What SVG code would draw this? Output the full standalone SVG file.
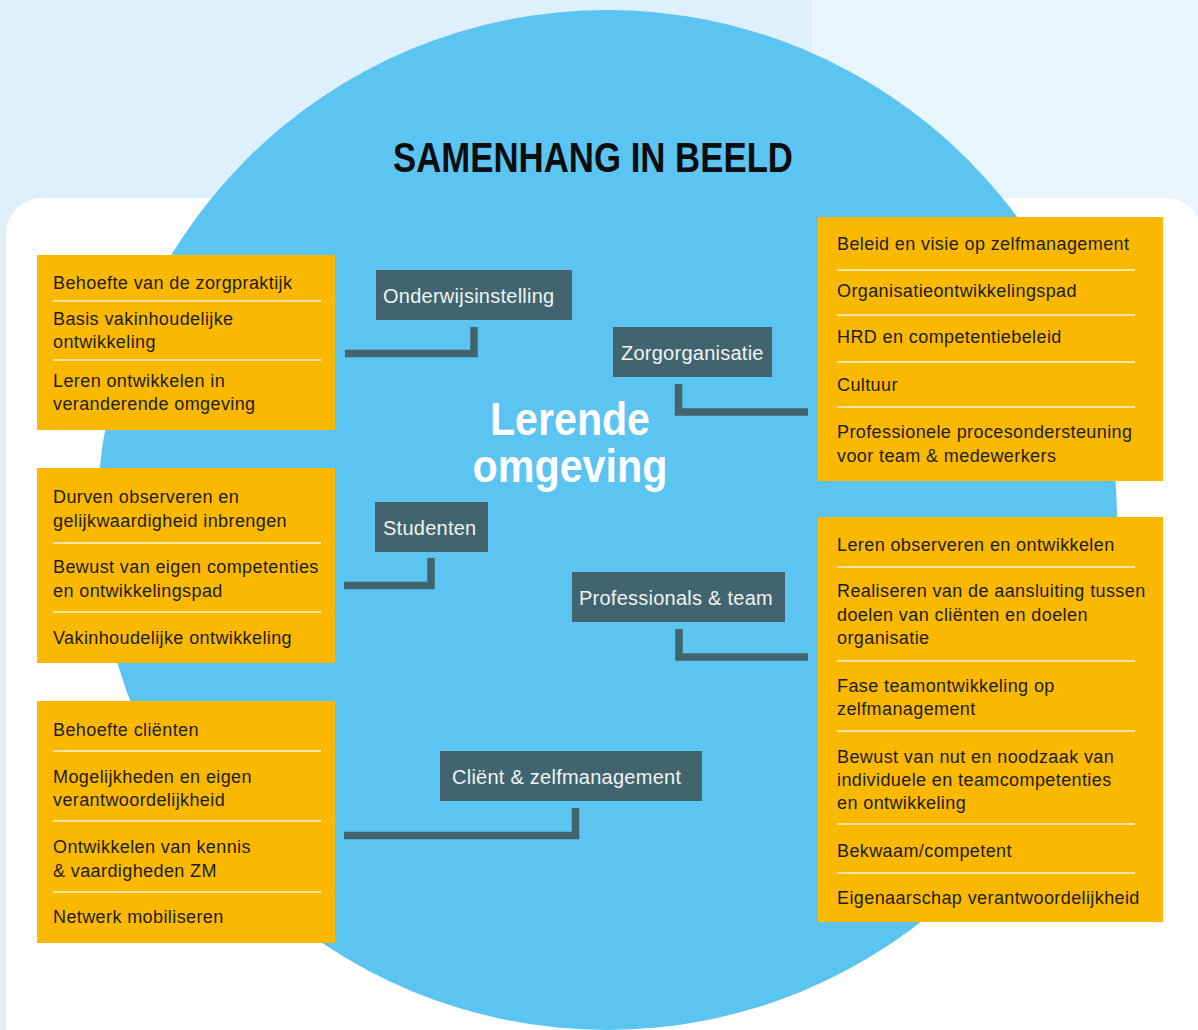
<svg xmlns="http://www.w3.org/2000/svg" width="1198" height="1030" viewBox="0 0 1198 1030">
<style>
.box{fill:#fab900}
.t{font-family:"Liberation Sans",Arial,sans-serif;font-size:18px;letter-spacing:0.4px;fill:#1d1d1b}
.sep{stroke:#fff3d6;stroke-width:1.6}
.lbl{fill:#42646f}
.lt{font-family:"Liberation Sans",Arial,sans-serif;font-size:20px;letter-spacing:0.25px;fill:#eef3f4}
.con{fill:none;stroke:#42646f;stroke-width:7.5}
</style>
<rect x="0" y="0" width="1198" height="1030" fill="#def0fc"/>
<rect x="812" y="0" width="386" height="260" fill="#e8f5fd"/>
<rect x="6" y="198" width="1196" height="900" rx="36" ry="36" fill="#ffffff"/>
<circle cx="607" cy="520" r="510" fill="#5bc4f1"/>
<text x="593" y="172" text-anchor="middle" font-family="'Liberation Sans',Arial,sans-serif" font-weight="bold" font-size="43" textLength="400" lengthAdjust="spacingAndGlyphs" fill="#0d0d0d">SAMENHANG IN BEELD</text>
<g id="center">
<text x="570" y="435" text-anchor="middle" font-family="'Liberation Sans',Arial,sans-serif" font-weight="bold" font-size="46" textLength="160" lengthAdjust="spacingAndGlyphs" fill="#ffffff">Lerende</text>
<text x="570" y="482" text-anchor="middle" font-family="'Liberation Sans',Arial,sans-serif" font-weight="bold" font-size="46" textLength="195" lengthAdjust="spacingAndGlyphs" fill="#ffffff">omgeving</text>
</g>
<g id="connectors">
<path class="con" d="M345,353.5 H474 V327"/>
<path class="con" d="M678.5,384 V412 H808"/>
<path class="con" d="M344,585.5 H431 V558"/>
<path class="con" d="M679,629 V657 H808"/>
<path class="con" d="M344,835.5 H575.5 V808"/>
</g>
<g id="onderwijsinstelling"><rect class="lbl" x="376" y="270" width="196" height="50"/><text class="lt" x="383" y="303">Onderwijsinstelling</text></g>
<g id="zorgorganisatie"><rect class="lbl" x="613" y="327" width="159" height="50"/><text class="lt" x="621" y="360">Zorgorganisatie</text></g>
<g id="studenten"><rect class="lbl" x="375" y="502" width="113" height="50"/><text class="lt" x="383" y="535">Studenten</text></g>
<g id="professionals"><rect class="lbl" x="572" y="572" width="213" height="50"/><text class="lt" x="579" y="605">Professionals &amp; team</text></g>
<g id="client"><rect class="lbl" x="440" y="751" width="262" height="50"/><text class="lt" x="452" y="784">Cliënt &amp; zelfmanagement</text></g>
<g id="box-left-1">
<rect class="box" x="37" y="255" width="298" height="175"/>
<text class="t" x="53" y="289">Behoefte van de zorgpraktijk</text>
<line class="sep" x1="53" y1="301" x2="321" y2="301"/>
<text class="t" x="53" y="325">Basis vakinhoudelijke</text>
<text class="t" x="53" y="348">ontwikkeling</text>
<line class="sep" x1="53" y1="360" x2="321" y2="360"/>
<text class="t" x="53" y="387">Leren ontwikkelen in</text>
<text class="t" x="53" y="410">veranderende omgeving</text>
</g>
<g id="box-left-2">
<rect class="box" x="37" y="468" width="298" height="195"/>
<text class="t" x="53" y="503">Durven observeren en</text>
<text class="t" x="53" y="527">gelijkwaardigheid inbrengen</text>
<line class="sep" x1="53" y1="543" x2="321" y2="543"/>
<text class="t" x="53" y="573">Bewust van eigen competenties</text>
<text class="t" x="53" y="597">en ontwikkelingspad</text>
<line class="sep" x1="53" y1="612" x2="321" y2="612"/>
<text class="t" x="53" y="644">Vakinhoudelijke ontwikkeling</text>
</g>
<g id="box-left-3">
<rect class="box" x="37" y="701" width="298" height="242"/>
<text class="t" x="53" y="736">Behoefte cliënten</text>
<line class="sep" x1="53" y1="751" x2="321" y2="751"/>
<text class="t" x="53" y="783">Mogelijkheden en eigen</text>
<text class="t" x="53" y="806">verantwoordelijkheid</text>
<line class="sep" x1="53" y1="821" x2="321" y2="821"/>
<text class="t" x="53" y="853">Ontwikkelen van kennis</text>
<text class="t" x="53" y="877">&amp; vaardigheden ZM</text>
<line class="sep" x1="53" y1="892" x2="321" y2="892"/>
<text class="t" x="53" y="923">Netwerk mobiliseren</text>
</g>
<g id="box-right-1">
<rect class="box" x="818" y="217" width="345" height="264"/>
<text class="t" x="837" y="250">Beleid en visie op zelfmanagement</text>
<line class="sep" x1="837" y1="270" x2="1135" y2="270"/>
<text class="t" x="837" y="297">Organisatieontwikkelingspad</text>
<line class="sep" x1="837" y1="315" x2="1135" y2="315"/>
<text class="t" x="837" y="343">HRD en competentiebeleid</text>
<line class="sep" x1="837" y1="362" x2="1135" y2="362"/>
<text class="t" x="837" y="391">Cultuur</text>
<line class="sep" x1="837" y1="407" x2="1135" y2="407"/>
<text class="t" x="837" y="438">Professionele procesondersteuning</text>
<text class="t" x="837" y="462">voor team &amp; medewerkers</text>
</g>
<g id="box-right-2">
<rect class="box" x="818" y="517" width="345" height="405"/>
<text class="t" x="837" y="551">Leren observeren en ontwikkelen</text>
<line class="sep" x1="837" y1="567" x2="1135" y2="567"/>
<text class="t" x="837" y="597">Realiseren van de aansluiting tussen</text>
<text class="t" x="837" y="621">doelen van cliënten en doelen</text>
<text class="t" x="837" y="644">organisatie</text>
<line class="sep" x1="837" y1="661" x2="1135" y2="661"/>
<text class="t" x="837" y="692">Fase teamontwikkeling op</text>
<text class="t" x="837" y="715">zelfmanagement</text>
<line class="sep" x1="837" y1="731" x2="1135" y2="731"/>
<text class="t" x="837" y="763">Bewust van nut en noodzaak van</text>
<text class="t" x="837" y="786">individuele en teamcompetenties</text>
<text class="t" x="837" y="809">en ontwikkeling</text>
<line class="sep" x1="837" y1="824" x2="1135" y2="824"/>
<text class="t" x="837" y="857">Bekwaam/competent</text>
<line class="sep" x1="837" y1="873" x2="1135" y2="873"/>
<text class="t" x="837" y="904">Eigenaarschap verantwoordelijkheid</text>
</g>
</svg>
